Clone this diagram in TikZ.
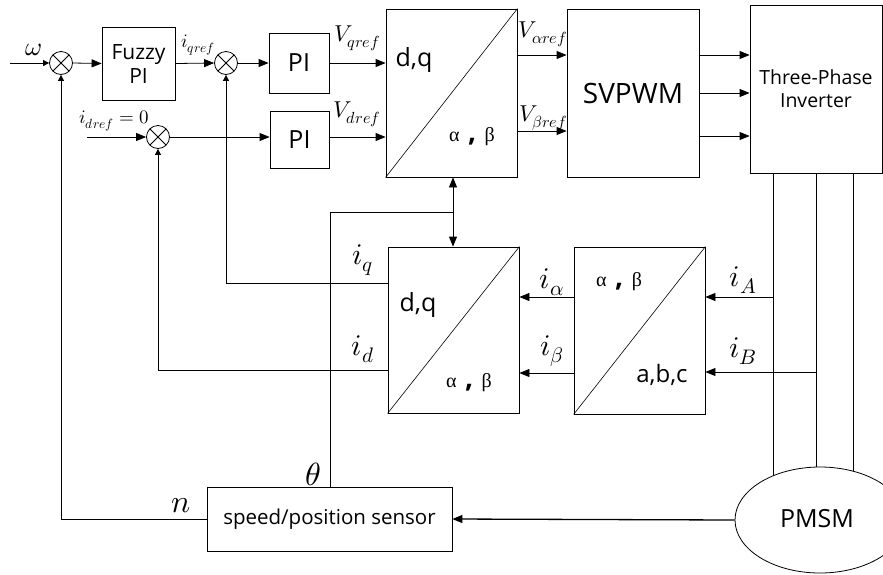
\documentclass[tikz,border=0pt]{standalone}
\usepackage{fontspec}
\usepackage{unicode-math}
\setmainfont{Open Sans}
\setmathfont{Latin Modern Math}
\newfontfamily\grk{Liberation Serif}
\usetikzlibrary{arrows.meta,shapes.geometric,backgrounds}
\newcommand{\ab}{{\grk α}\, {\fontsize{28}{28}\selectfont\bfseries,}\, {\grk β}}
\begin{document}
\begin{tikzpicture}[x=1pt,y=-1pt,line width=0.8pt,
  >={Triangle[length=10pt,width=8pt]},
  sm/.style={-{Triangle[length=6pt,width=6pt]}},
  blk/.style={draw,rectangle,inner sep=0pt,align=center},
  sumj/.style={draw,circle,minimum size=23pt,inner sep=0pt,path picture={
    \draw (path picture bounding box.north west)--(path picture bounding box.south east)
          (path picture bounding box.north east)--(path picture bounding box.south west);}},
  lab/.style={inner sep=0pt},
  grt/.style={inner sep=0pt,font=\fontsize{20}{24}\selectfont}]
\useasboundingbox (0,0) rectangle (883,574);

% sums
\node[sumj] (s1) at (61,63) {};
\node[sumj] (s2) at (226,63) {};
\node[sumj] (s3) at (158,137) {};

% blocks
\node[blk,minimum width=73pt,minimum height=73pt,font=\fontsize{21}{24}\selectfont] (fz) at (138.5,63.5) {Fuzzy\\PI};
\node[blk,minimum width=60pt,minimum height=60pt,font=\fontsize{25}{30}\selectfont] (pi1) at (299,63) {PI};
\node[blk,minimum width=59pt,minimum height=57pt,font=\fontsize{25}{30}\selectfont] (pi2) at (299.5,139.5) {PI};
\node[blk,minimum width=131pt,minimum height=168pt] (dq1) at (451.5,93) {};
\draw[line width=0.6pt] (dq1.south west) -- (dq1.north east);
\node[lab,font=\fontsize{25}{30}\selectfont] at (414,60) {d,q};
\node[grt] at (472,137) {\ab};
\node[blk,minimum width=132pt,minimum height=168pt,font=\fontsize{28}{34}\selectfont] (sv) at (633,93) {SVPWM};
\node[blk,minimum width=132pt,minimum height=168pt,font=\fontsize{19.5}{23}\selectfont] (inv) at (816,89) {Three-Phase\\Inverter};
\node[blk,minimum width=131pt,minimum height=166pt] (dq2) at (453.5,330) {};
\draw[line width=0.6pt] (dq2.south west) -- (dq2.north east);
\node[lab,font=\fontsize{25}{30}\selectfont] at (418,305) {d,q};
\node[grt] at (469,383) {\ab};
\node[blk,minimum width=131pt,minimum height=167pt] (abc) at (639.5,330.5) {};
\draw[line width=0.6pt] (abc.south west) -- (abc.north east);
\node[grt] at (619,282) {\ab};
\node[lab,font=\fontsize{24}{28}\selectfont] at (662,375) {a,b,c};
\node[blk,minimum width=245pt,minimum height=64pt,font=\fontsize{20.5}{24}\selectfont] (sen) at (329.5,519) {speed/position sensor};
\node[draw,ellipse,minimum width=170pt,minimum height=106pt,inner sep=0pt,fill=white] (pm) at (820,520) {};
\node[lab,font=\fontsize{25}{30}\selectfont] at (817,519) {PMSM};

% inputs
\coordinate (win) at (10,63);
\draw[sm] (win) -- (s1.west);
\node[lab,font=\fontsize{26}{30}\selectfont] at (34,50) {$\omega$};
\draw[->] (s1.east) -- (fz.west);
\draw[->] (fz.east) -- (s2.west);
\node[lab,font=\fontsize{19}{22}\selectfont] at (198,45) {$i_{qref}$};
\draw[->] (s2.east) -- (pi1.west);
\coordinate (din) at (87,137);
\draw[->] (din) -- (s3.west);
\node[lab,font=\fontsize{19}{22}\selectfont] at (114,121) {$i_{dref}=0$};
\draw[->] (s3.east) -- (s3 -| pi2.west);

% PI to dq1
\draw[->] (pi1.east) -- (pi1 -| dq1.west);
\node[lab,font=\fontsize{23}{26}\selectfont] at (357,38) {$V_{qref}$};
\coordinate (vd) at (329,137);
\draw[->] (vd) -- (vd -| dq1.west);
\node[lab,font=\fontsize{23}{26}\selectfont] at (357,114) {$V_{dref}$};

% dq1 to SVPWM
\coordinate (va) at (517,55);
\coordinate (vb) at (517,131);
\draw[->] (va) -- (va -| sv.west);
\draw[->] (vb) -- (vb -| sv.west);
\node[lab,font=\fontsize{23}{26}\selectfont] at (543,34) {$V_{\alpha ref}$};
\node[lab,font=\fontsize{23}{26}\selectfont] at (543,118) {$V_{\beta ref}$};

% SVPWM to inverter
\foreach \yy [count=\k] in {55,93,136}{
  \coordinate (o\k) at (699,\yy);
  \draw[->] (o\k) -- (o\k -| inv.west);}

% inverter to PMSM
\coordinate (la) at (773,173);
\coordinate (lb) at (816,173);
\coordinate (lc) at (853,173);
\begin{scope}[on background layer]
\draw (la) -- (la |- pm.center);
\draw (lb) -- (lb |- pm.center);
\draw (lc) -- (lc |- pm.center);
\end{scope}

% current measurement
\coordinate (ia) at (773,297);
\coordinate (ib) at (816,372);
\draw[->] (ia) -- (ia -| abc.east);
\draw[->] (ib) -- (ib -| abc.east);
\node[lab,font=\fontsize{30}{34}\selectfont] at (743,280) {$i_A$};
\node[lab,font=\fontsize{30}{34}\selectfont] at (743,351) {$i_B$};
\coordinate (ial) at (574,297);
\coordinate (ibl) at (574,373);
\draw[->] (ial) -- (ial -| dq2.east);
\draw[->] (ibl) -- (ibl -| dq2.east);
\node[lab,font=\fontsize{30}{34}\selectfont] at (552,282) {$i_\alpha$};
\node[lab,font=\fontsize{30}{34}\selectfont] at (552,351) {$i_\beta$};

% feedback iq, id
\coordinate (iq) at (388,283);
\coordinate (id) at (388,370);
\draw[sm] (iq) -| (s2.south);
\draw[sm] (id) -| (s3.south);
\node[lab,font=\fontsize{30}{34}\selectfont] at (363,260) {$i_q$};
\node[lab,font=\fontsize{30}{34}\selectfont] at (363,349) {$i_d$};

% theta
\coordinate (th) at (330,487);
\coordinate (tj) at (453,212);
\draw (th) |- (tj);
\draw[<->] (dq1.south -| tj) -- (dq2.north -| tj);
\node[lab,font=\fontsize{32}{36}\selectfont] at (313,474) {$\theta$};

% speed
\draw[sm] (sen.west) -| (s1.south);
\node[lab,font=\fontsize{32}{36}\selectfont] at (181,506) {$n$};

% PMSM to sensor
\draw[->,line width=1.3pt] (pm.west) -- (sen.east);
\end{tikzpicture}
\end{document}
